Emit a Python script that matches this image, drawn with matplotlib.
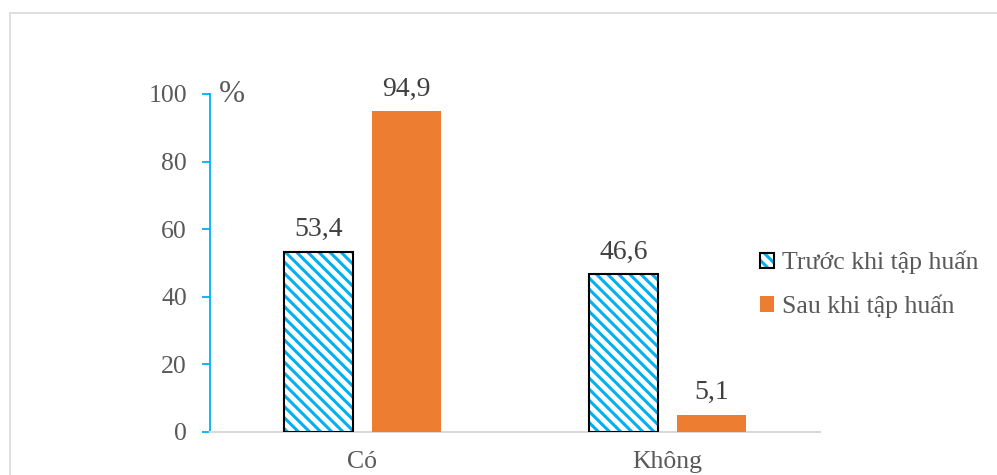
import matplotlib
matplotlib.use("Agg")
import matplotlib.pyplot as plt
import numpy as np
from matplotlib.patches import Rectangle
from matplotlib.legend_handler import HandlerTuple

categories = ["Có", "Không"]
series_names = ["Trước khi tập huấn", "Sau khi tập huấn"]
before = [53.4, 46.6]
after = [94.9, 5.1]
yticks = [0, 20, 40, 60, 80, 100]

plt.rcParams['font.family'] = ['Liberation Serif', 'DejaVu Serif']
plt.rcParams['hatch.linewidth'] = 2.2

BLUE = "#00B0F0"
ORANGE = "#ED7D31"
GRAY = "#595959"

fig = plt.figure(figsize=(9.97, 4.75), dpi=100)
ax = fig.add_axes([210/997, 1-432/475, 610/997, (432-94)/475])

x = np.arange(len(categories))
w = 0.226
off = 0.144

hb = ax.bar(x - off, before, w, color="white", edgecolor=BLUE, hatch="\\\\\\", linewidth=0, zorder=3)
eb = ax.bar(x - off, before, w, color="none", edgecolor="black", linewidth=1.5, zorder=4)
ob = ax.bar(x + off, after, w, color=ORANGE, linewidth=0, zorder=3)

for xi, v in zip(x - off, before):
    ax.annotate(f"{v:.1f}".replace(".", ","), (xi, v), xytext=(0, 7), textcoords="offset points",
                ha="center", va="bottom", fontsize=20, color="#404040")
for xi, v in zip(x + off, after):
    ax.annotate(f"{v:.1f}".replace(".", ","), (xi, v), xytext=(0, 7), textcoords="offset points",
                ha="center", va="bottom", fontsize=20, color="#404040")

ax.set_xlim(-0.5, 1.5)
ax.set_ylim(0, 100)
ax.set_yticks(yticks)
ax.set_yticklabels([str(t) for t in yticks])
ax.set_xticks(x)
ax.set_xticklabels(categories)

for s in ["top", "right"]:
    ax.spines[s].set_visible(False)
ax.spines["left"].set_color(BLUE)
ax.spines["left"].set_linewidth(1.3)
ax.spines["bottom"].set_color("#d9d9d9")
ax.spines["bottom"].set_linewidth(1.5)
ax.tick_params(axis="y", colors=BLUE, labelcolor=GRAY, labelsize=18.5, length=5.5, width=1.3, pad=11)
ax.tick_params(axis="x", length=0, labelcolor=GRAY, labelsize=18.5, pad=14)

ax.text(0.015, 1.0, "%", transform=ax.transAxes, fontsize=22.5, color=GRAY, ha="left", va="center")

leg = fig.legend([(hb, eb), ob], series_names, handler_map={tuple: HandlerTuple(ndivide=1)},
                 loc="center left", bbox_to_anchor=(760/997, 1-284.5/475), frameon=False,
                 borderpad=0, borderaxespad=0,
                 fontsize=18.5, labelcolor=GRAY, handlelength=0.55, handleheight=0.55,
                 handletextpad=0.32, labelspacing=0.78)

fig.patches.append(Rectangle((10/997, -0.1), 1.2, 1.1 - 13/475, transform=fig.transFigure,
                             fill=False, edgecolor="#d9d9d9", linewidth=1.2, clip_on=False))

fig.savefig("out.png", dpi=100)
